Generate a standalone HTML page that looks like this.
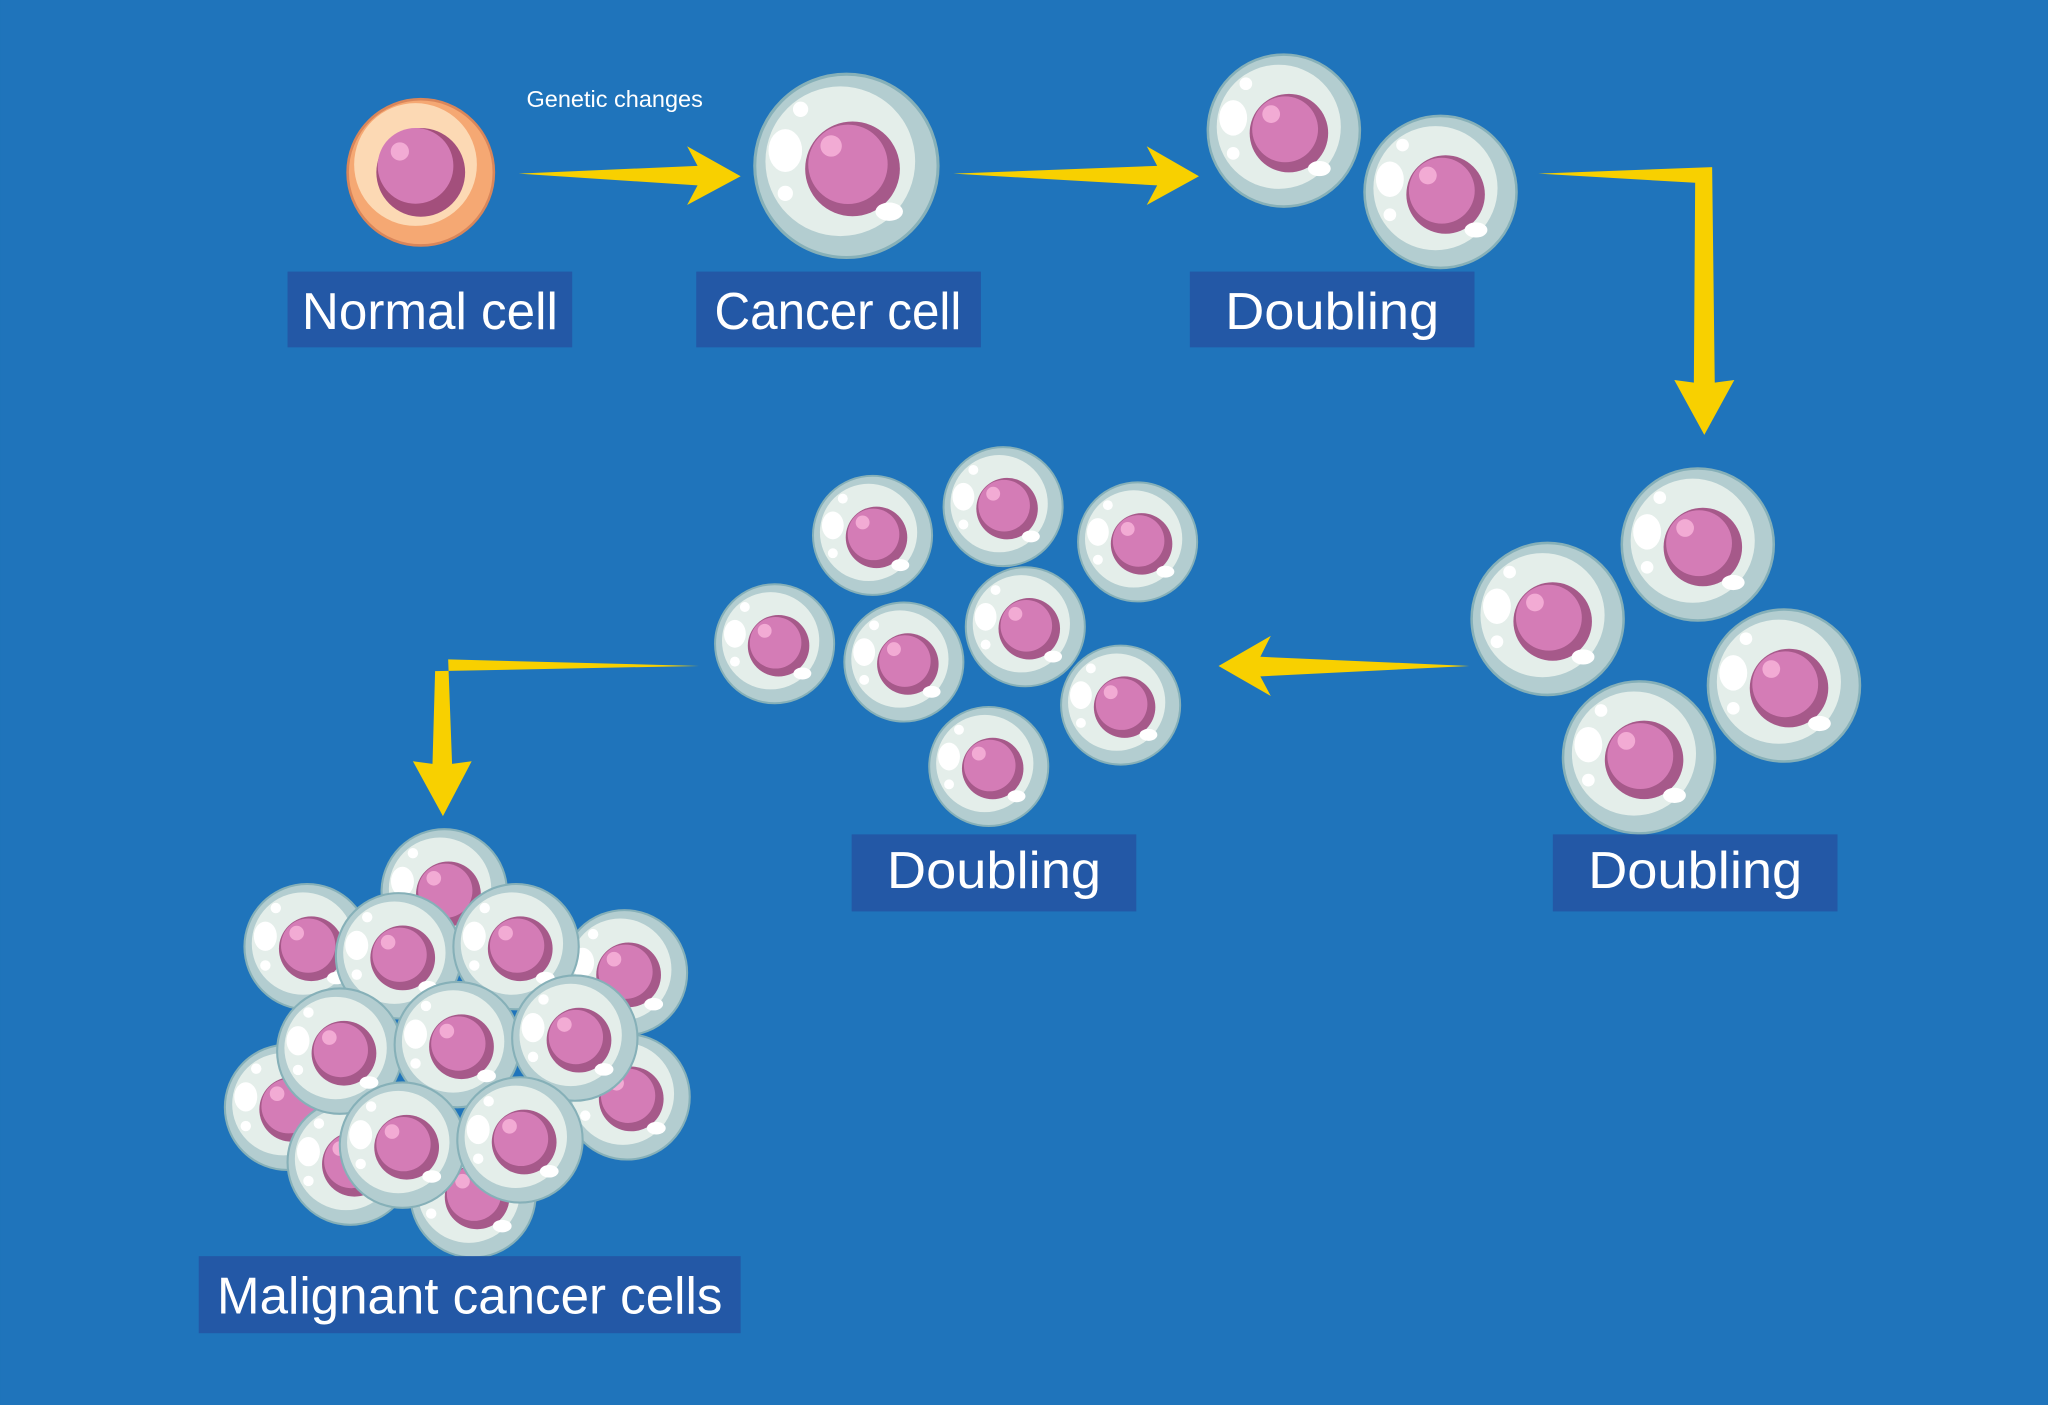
<!DOCTYPE html>
<html><head><meta charset="utf-8"><style>html,body{margin:0;padding:0;background:#1f74bb;}svg{display:block}</style></head><body>
<svg width="2048" height="1405" viewBox="0 0 1568 1076" xmlns="http://www.w3.org/2000/svg" font-family="Liberation Sans, sans-serif">
<defs>
<g id="c">
<circle r="60" fill="#b3cdd0" stroke="#86b0b8" stroke-width="2"/>
<circle cx="-4" cy="-3" r="49" fill="#e4eeea"/>
<circle cx="4" cy="2" r="31" fill="#a6598a"/>
<circle cx="1" cy="-1" r="26" fill="#d47cb6"/>
<circle cx="-10" cy="-13" r="7" fill="#f2abd4"/>
<ellipse cx="-40" cy="-10" rx="11" ry="14" fill="#fff"/>
<circle cx="-30" cy="-37" r="5" fill="#fff"/>
<circle cx="-40" cy="18" r="5" fill="#fff"/>
<ellipse cx="28" cy="30" rx="9" ry="6" fill="#fff"/>
</g>
</defs>
<rect width="1568" height="1076" fill="#1f74bb"/>
<!-- normal cell -->
<circle cx="322" cy="132" r="56" fill="#f5a873" stroke="#d9865a" stroke-width="2"/>
<circle cx="318" cy="126" r="47" fill="#fcd9b4"/>
<circle cx="322" cy="132" r="34" fill="#a34f7c"/>
<circle cx="318" cy="127" r="29" fill="#d47cb6"/>
<circle cx="306" cy="116" r="7" fill="#f2abd4"/>
<text x="403" y="82" fill="#fff" font-size="18">Genetic changes</text>
<!-- cells -->
<use href="#c" transform="translate(648,127) scale(1.17)"/>
<use href="#c" transform="translate(983,100) scale(0.97)"/>
<use href="#c" transform="translate(1103,147) scale(0.97)"/>
<use href="#c" transform="translate(1300,417) scale(0.97)"/>
<use href="#c" transform="translate(1185,474) scale(0.97)"/>
<use href="#c" transform="translate(1366,525) scale(0.97)"/>
<use href="#c" transform="translate(1255,580) scale(0.97)"/>
<use href="#c" transform="translate(668,410) scale(0.76)"/>
<use href="#c" transform="translate(768,388) scale(0.76)"/>
<use href="#c" transform="translate(871,415) scale(0.76)"/>
<use href="#c" transform="translate(593,493) scale(0.76)"/>
<use href="#c" transform="translate(692,507) scale(0.76)"/>
<use href="#c" transform="translate(785,480) scale(0.76)"/>
<use href="#c" transform="translate(858,540) scale(0.76)"/>
<use href="#c" transform="translate(757,587) scale(0.76)"/>
<!-- malignant cluster -->
<use href="#c" transform="translate(340,683) scale(0.8)"/>
<use href="#c" transform="translate(478,745) scale(0.8)"/>
<use href="#c" transform="translate(220,848) scale(0.8)"/>
<use href="#c" transform="translate(480,840) scale(0.8)"/>
<use href="#c" transform="translate(268,890) scale(0.8)"/>
<use href="#c" transform="translate(362,915) scale(0.8)"/>
<use href="#c" transform="translate(235,725) scale(0.8)"/>
<use href="#c" transform="translate(305,732) scale(0.8)"/>
<use href="#c" transform="translate(395,725) scale(0.8)"/>
<use href="#c" transform="translate(260,805) scale(0.8)"/>
<use href="#c" transform="translate(350,800) scale(0.8)"/>
<use href="#c" transform="translate(440,795) scale(0.8)"/>
<use href="#c" transform="translate(308,877) scale(0.8)"/>
<use href="#c" transform="translate(398,873) scale(0.8)"/>
<!-- arrows -->
<g fill="#f8d000">
<polygon points="397,133 534,127 526,112 567,135 526,157 534,142"/>
<polygon points="730,133 886,127 878,112 918,135 878,157 886,142"/>
<polygon points="1178,133 1311,128 1313,293 1328,291 1305,333 1282,291 1297,293 1298,140"/>
<polygon points="1125,510 965,503 973,487 933,510 973,533 965,518"/>
<polygon points="535,510 343,505 346,585 361,583 339,625 316,583 331,585 333,514"/>
</g>
<!-- labels -->
<g fill="#2358a6">
<rect x="220" y="208" width="218" height="58"/>
<rect x="533" y="208" width="218" height="58"/>
<rect x="911" y="208" width="218" height="58"/>
<rect x="652" y="639" width="218" height="59"/>
<rect x="1189" y="639" width="218" height="59"/>
<rect x="152" y="962" width="415" height="59"/>
</g>
<g fill="#fff" font-size="40">
<text x="231" y="252" textLength="196" lengthAdjust="spacingAndGlyphs">Normal cell</text>
<text x="547" y="252" textLength="189" lengthAdjust="spacingAndGlyphs">Cancer cell</text>
<text x="938" y="252" textLength="164" lengthAdjust="spacingAndGlyphs">Doubling</text>
<text x="679" y="680" textLength="164" lengthAdjust="spacingAndGlyphs">Doubling</text>
<text x="1216" y="680" textLength="164" lengthAdjust="spacingAndGlyphs">Doubling</text>
<text x="166" y="1006" textLength="387" lengthAdjust="spacingAndGlyphs">Malignant cancer cells</text>
</g>
</svg>
</body></html>
